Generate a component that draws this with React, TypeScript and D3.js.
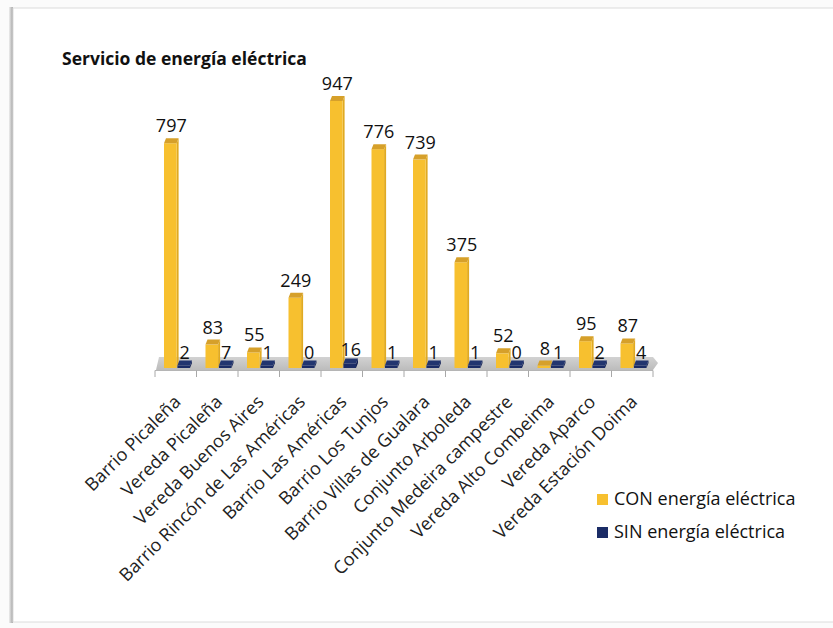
import React from "react";
import * as d3 from "d3";

const categories = [
  "Barrio Picaleña",
  "Vereda Picaleña",
  "Vereda Buenos Aires",
  "Barrio Rincón de Las Américas",
  "Barrio Las Américas",
  "Barrio Los Tunjos",
  "Barrio Villas de Gualara",
  "Conjunto Arboleda",
  "Conjunto Medeira campestre",
  "Vereda Alto Combeima",
  "Vereda Aparco",
  "Vereda Estación Doima",
];
const conValues = [797, 83, 55, 249, 947, 776, 739, 375, 52, 8, 95, 87];
const sinValues = [2, 7, 1, 0, 16, 1, 1, 1, 0, 1, 2, 4];
const seriesNames = ["CON energía eléctrica", "SIN energía eléctrica"];
const title = "Servicio de energía eléctrica";

const W = 833;
const H = 628;
const FONT = "'Open Sans', 'DejaVu Sans', sans-serif";
const BASE = 368;
const CAP = 5;

const colors = {
  con: { front: "#F7C02F", cap: "#D6A02A", side: "#E0AA22" },
  sin: { front: "#1B2C66", cap: "#22356F", side: "#142255" },
};

export default function App() {
  const x = d3.scaleBand<string>().domain(categories).range([155, 653]).paddingInner(0).paddingOuter(0);
  const sub = d3.scaleBand<string>().domain(["con", "sin"]).range([9, 35]).paddingInner(0.06);
  const y = d3.scaleLinear().domain([0, 1000]).range([BASE, BASE - 282]);

  const bar = (key: "con" | "sin", cat: string, v: number, i: number) => {
    const x0 = (x(cat) as number) + (sub(key) as number);
    const w = sub.bandwidth();
    const yt = Math.min(y(v), BASE - 2.5);
    const c = colors[key];
    const capPts = [
      [x0, yt],
      [x0 + 2, yt - CAP],
      [x0 + w + 2, yt - CAP],
      [x0 + w, yt],
    ]
      .map((p) => p.join(","))
      .join(" ");
    const sidePts = [
      [x0 + w, yt],
      [x0 + w + 2, yt - CAP],
      [x0 + w + 2, BASE - CAP],
      [x0 + w, BASE],
    ]
      .map((p) => p.join(","))
      .join(" ");
    return (
      <g key={key + i}>
        <polygon points={sidePts} fill={c.side} />
        <rect x={x0} y={yt} width={w} height={BASE - yt} fill={c.front} />
        <polygon points={capPts} fill={c.cap} />
        <text
          x={x0 + w / 2 + 1}
          y={yt - CAP - (key === "con" ? 6 : 2)}
          textAnchor="middle"
          fontFamily={FONT}
          fontSize={18}
          fill="#111"
        >
          {v}
        </text>
      </g>
    );
  };

  const x0 = x.range()[0];
  const x1 = x.range()[1];

  return (
    <svg
      width={W}
      height={H}
      style={{ position: "absolute", left: 0, top: 0, background: "#ffffff" }}
    >
      <defs>
        <linearGradient id="floorG" x1="0" y1="0" x2="0" y2="1">
          <stop offset="0" stopColor="#d2d2d2" />
          <stop offset="1" stopColor="#bcbcbc" />
        </linearGradient>
        <linearGradient id="shadowL" x1="0" y1="0" x2="1" y2="0">
          <stop offset="0" stopColor="#eeeeee" />
          <stop offset="1" stopColor="#a0a0a0" />
        </linearGradient>
      </defs>
      <rect x={0} y={0} width={W} height={H} fill="#fbfbfb" />
      <rect x={9} y={7} width={4} height={616} fill="url(#shadowL)" />
      <rect x={13} y={8} width={W} height={614} fill="#ffffff" stroke="#dcdcdc" strokeWidth={1} />

      <text x={62} y={65} fontFamily={FONT} fontWeight={700} fontSize={17.5} fill="#111">
        {title}
      </text>

      {/* floor */}
      <polygon
        points={`${x0 + 1},${BASE + 2} ${x0 + 4},${BASE - 11} ${x1},${BASE - 11} ${x1 + 5},${BASE - 5} ${x1},${BASE + 2}`}
        fill="url(#floorG)"
      />
      <line x1={x0} x2={x1} y1={BASE + 2.5} y2={BASE + 2.5} stroke="#b5b5b5" strokeWidth={1.2} />
      {categories.concat(["end"]).map((c, i) => {
        const tx = c === "end" ? x1 : (x(c) as number);
        return <line key={"t" + i} x1={tx} x2={tx} y1={BASE + 2.5} y2={BASE + 9} stroke="#a8a8a8" strokeWidth={1} />;
      })}

      {categories.map((c, i) => bar("con", c, conValues[i], i))}
      {categories.map((c, i) => bar("sin", c, sinValues[i], i))}

      {categories.map((c, i) => {
        const cx = (x(c) as number) + x.bandwidth() / 2 + 6;
        const cy = BASE + 35;
        return (
          <text
            key={"l" + i}
            x={cx}
            y={cy}
            transform={`rotate(-45 ${cx} ${cy})`}
            textAnchor="end"
            fontFamily={FONT}
            fontSize={18}
            fill="#222"
          >
            {c}
          </text>
        );
      })}

      {seriesNames.map((s, i) => (
        <g key={"lg" + i}>
          <rect x={597} y={494 + i * 33} width={11} height={11} fill={i === 0 ? colors.con.front : colors.sin.front} />
          <text x={614} y={505 + i * 33} fontFamily={FONT} fontSize={18} fill="#111">
            {s}
          </text>
        </g>
      ))}
    </svg>
  );
}
